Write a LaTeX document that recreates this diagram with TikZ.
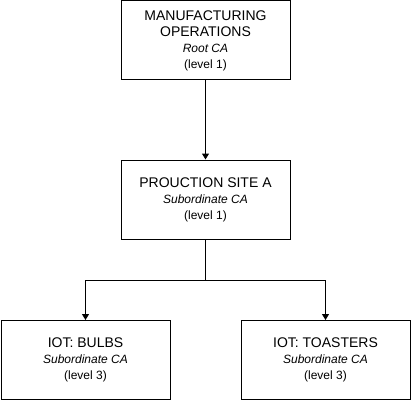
\documentclass[tikz,border=0pt]{standalone}
\usepackage{fontspec}
\setmainfont{Liberation Sans}
\usetikzlibrary{arrows.meta}
\begin{document}
\begin{tikzpicture}[x=1pt,y=-1pt,
  box/.style={draw=black,line width=1pt,minimum width=169pt,minimum height=79pt,inner sep=0pt,align=center,font=\fontsize{14}{16}\selectfont},
  conn/.style={draw=black,line width=1pt,-{Triangle[length=6pt,width=7pt]}}]
\useasboundingbox (0,0) rectangle (411,401);
\node[box] (mo) at (205.5,40.5) {MANUFACTURING\\OPERATIONS\\{\fontsize{12}{16}\selectfont\itshape Root CA}\\{\fontsize{12}{16}\selectfont (level 1)}};
\node[box] (ps) at (205.5,199.5) {PROUCTION SITE A\\{\fontsize{12}{16}\selectfont\itshape Subordinate CA}\\{\fontsize{12}{16}\selectfont (level 1)}};
\node[box] (bu) at (85.5,360) {IOT: BULBS\\{\fontsize{12}{16}\selectfont\itshape Subordinate CA}\\{\fontsize{12}{16}\selectfont (level 3)}};
\node[box] (to) at (325.5,360) {IOT: TOASTERS\\{\fontsize{12}{16}\selectfont\itshape Subordinate CA}\\{\fontsize{12}{16}\selectfont (level 3)}};
\coordinate (j) at (205.5,280);
\draw[conn] (mo.south) -- (ps.north);
\draw[conn] (ps.south) -- (j) -| (bu.north);
\draw[conn] (j) -| (to.north);
\end{tikzpicture}
\end{document}
